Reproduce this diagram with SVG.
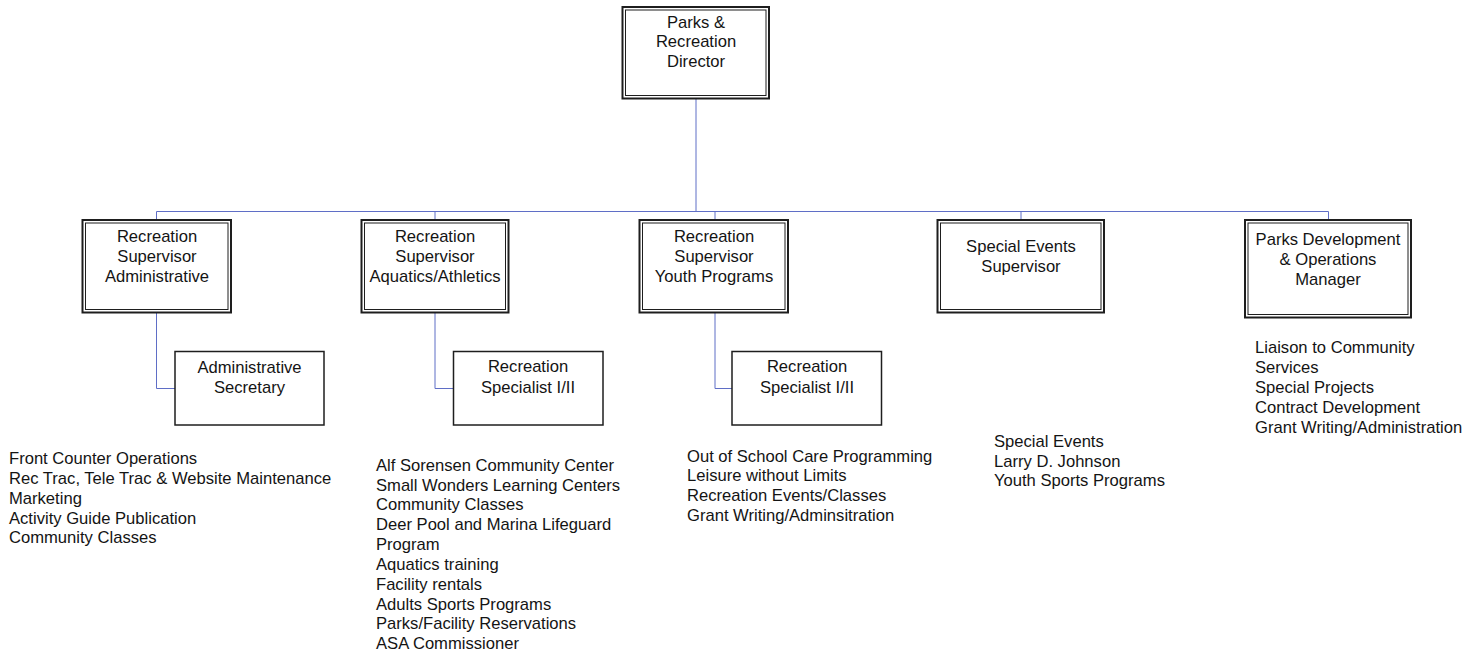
<svg xmlns="http://www.w3.org/2000/svg" width="1476" height="656" viewBox="0 0 1476 656">
  <style>
    text { font-family: "Liberation Sans", Arial, sans-serif; font-size: 16.6px; fill: #141414; }
    .c { text-anchor: middle; }
    .outer { fill: none; stroke: #1e1e1e; stroke-width: 2; }
    .inner { fill: none; stroke: #1e1e1e; stroke-width: 1; }
    .single { fill: #ffffff; stroke: #1e1e1e; stroke-width: 1.5; }
    .conn { fill: none; stroke: #5f6ec6; stroke-width: 1; }
  </style>
  <rect width="1476" height="656" fill="#ffffff"/>

  <!-- reporting lines -->
  <g id="connectors">
    <path class="conn" d="M696 99 V211.5"/>
    <path class="conn" d="M156.5 211.5 H1328.5"/>
    <path class="conn" d="M156.5 211.5 V220"/>
    <path class="conn" d="M435 211.5 V220"/>
    <path class="conn" d="M715 211.5 V220"/>
    <path class="conn" d="M1021 211.5 V220"/>
    <path class="conn" d="M1328.5 211.5 V220"/>
    <path class="conn" d="M156.5 313 V388.5 H175"/>
    <path class="conn" d="M435 313 V388.5 H453.5"/>
    <path class="conn" d="M715 313 V388.5 H732"/>
  </g>

  <g id="director">
    <rect class="outer" x="622.5" y="7" width="146.5" height="91.5"/>
    <rect class="inner" x="625.5" y="10" width="140.5" height="85.5"/>
    <text class="c" x="696" y="27.5">Parks &amp;</text>
    <text class="c" x="696" y="47.3">Recreation</text>
    <text class="c" x="696" y="66.8">Director</text>
  </g>

  <g id="sup-admin">
    <rect class="outer" x="82.5" y="220" width="148.5" height="92.5"/>
    <rect class="inner" x="85.5" y="223" width="142.5" height="86.5"/>
    <text class="c" x="157" y="242.3">Recreation</text>
    <text class="c" x="157" y="262.2">Supervisor</text>
    <text class="c" x="157" y="281.8">Administrative</text>
  </g>

  <g id="sup-aquatics">
    <rect class="outer" x="361.5" y="220" width="147" height="92.5"/>
    <rect class="inner" x="364.5" y="223" width="141" height="86.5"/>
    <text class="c" x="435" y="242.3">Recreation</text>
    <text class="c" x="435" y="262.2">Supervisor</text>
    <text class="c" x="435" y="281.8">Aquatics/Athletics</text>
  </g>

  <g id="sup-youth">
    <rect class="outer" x="639.5" y="220" width="148.5" height="92.5"/>
    <rect class="inner" x="642.5" y="223" width="142.5" height="86.5"/>
    <text class="c" x="714" y="242.3">Recreation</text>
    <text class="c" x="714" y="262.2">Supervisor</text>
    <text class="c" x="714" y="281.8">Youth Programs</text>
  </g>

  <g id="sup-events">
    <rect class="outer" x="937.5" y="220" width="166.5" height="92.5"/>
    <rect class="inner" x="940.5" y="223" width="160.5" height="86.5"/>
    <text class="c" x="1021" y="252">Special Events</text>
    <text class="c" x="1021" y="272">Supervisor</text>
  </g>

  <g id="parks-dev">
    <rect class="outer" x="1245" y="220" width="166" height="97.5"/>
    <rect class="inner" x="1248" y="223" width="160" height="91.5"/>
    <text class="c" x="1328" y="245">Parks Development</text>
    <text class="c" x="1328" y="265">&amp; Operations</text>
    <text class="c" x="1328" y="285">Manager</text>
  </g>

  <g id="admin-secretary">
    <rect class="single" x="175" y="351.5" width="149" height="73.5"/>
    <text class="c" x="249.5" y="372.7">Administrative</text>
    <text class="c" x="249.5" y="392.7">Secretary</text>
  </g>

  <g id="specialist-aquatics">
    <rect class="single" x="453.5" y="351.5" width="149.5" height="73.5"/>
    <text class="c" x="528" y="372.2">Recreation</text>
    <text class="c" x="528" y="392.7">Specialist I/II</text>
  </g>

  <g id="specialist-youth">
    <rect class="single" x="732" y="351.5" width="149.5" height="73.5"/>
    <text class="c" x="807" y="372.2">Recreation</text>
    <text class="c" x="807" y="392.7">Specialist I/II</text>
  </g>

  <!-- duty lists -->
  <g id="duties-admin">
    <text x="9" y="464.2">Front Counter Operations</text>
    <text x="9" y="484">Rec Trac, Tele Trac &amp; Website Maintenance</text>
    <text x="9" y="503.7">Marketing</text>
    <text x="9" y="523.5">Activity Guide Publication</text>
    <text x="9" y="543.2">Community Classes</text>
  </g>

  <g id="duties-aquatics">
    <text x="376" y="470.7">Alf Sorensen Community Center</text>
    <text x="376" y="490.5">Small Wonders Learning Centers</text>
    <text x="376" y="510.4">Community Classes</text>
    <text x="376" y="530.2">Deer Pool and Marina Lifeguard</text>
    <text x="376" y="550">Program</text>
    <text x="376" y="569.9">Aquatics training</text>
    <text x="376" y="589.7">Facility rentals</text>
    <text x="376" y="609.6">Adults Sports Programs</text>
    <text x="376" y="629.4">Parks/Facility Reservations</text>
    <text x="376" y="649.3">ASA Commissioner</text>
  </g>

  <g id="duties-youth">
    <text x="687" y="461.5">Out of School Care Programming</text>
    <text x="687" y="481.3">Leisure without Limits</text>
    <text x="687" y="501.1">Recreation Events/Classes</text>
    <text x="687" y="520.9">Grant Writing/Adminsitration</text>
  </g>

  <g id="duties-events">
    <text x="994" y="446.8">Special Events</text>
    <text x="994" y="466.6">Larry D. Johnson</text>
    <text x="994" y="486.4">Youth Sports Programs</text>
  </g>

  <g id="duties-parks">
    <text x="1255" y="353.3">Liaison to Community</text>
    <text x="1255" y="373.1">Services</text>
    <text x="1255" y="392.9">Special Projects</text>
    <text x="1255" y="412.7">Contract Development</text>
    <text x="1255" y="432.5">Grant Writing/Administration</text>
  </g>
</svg>
